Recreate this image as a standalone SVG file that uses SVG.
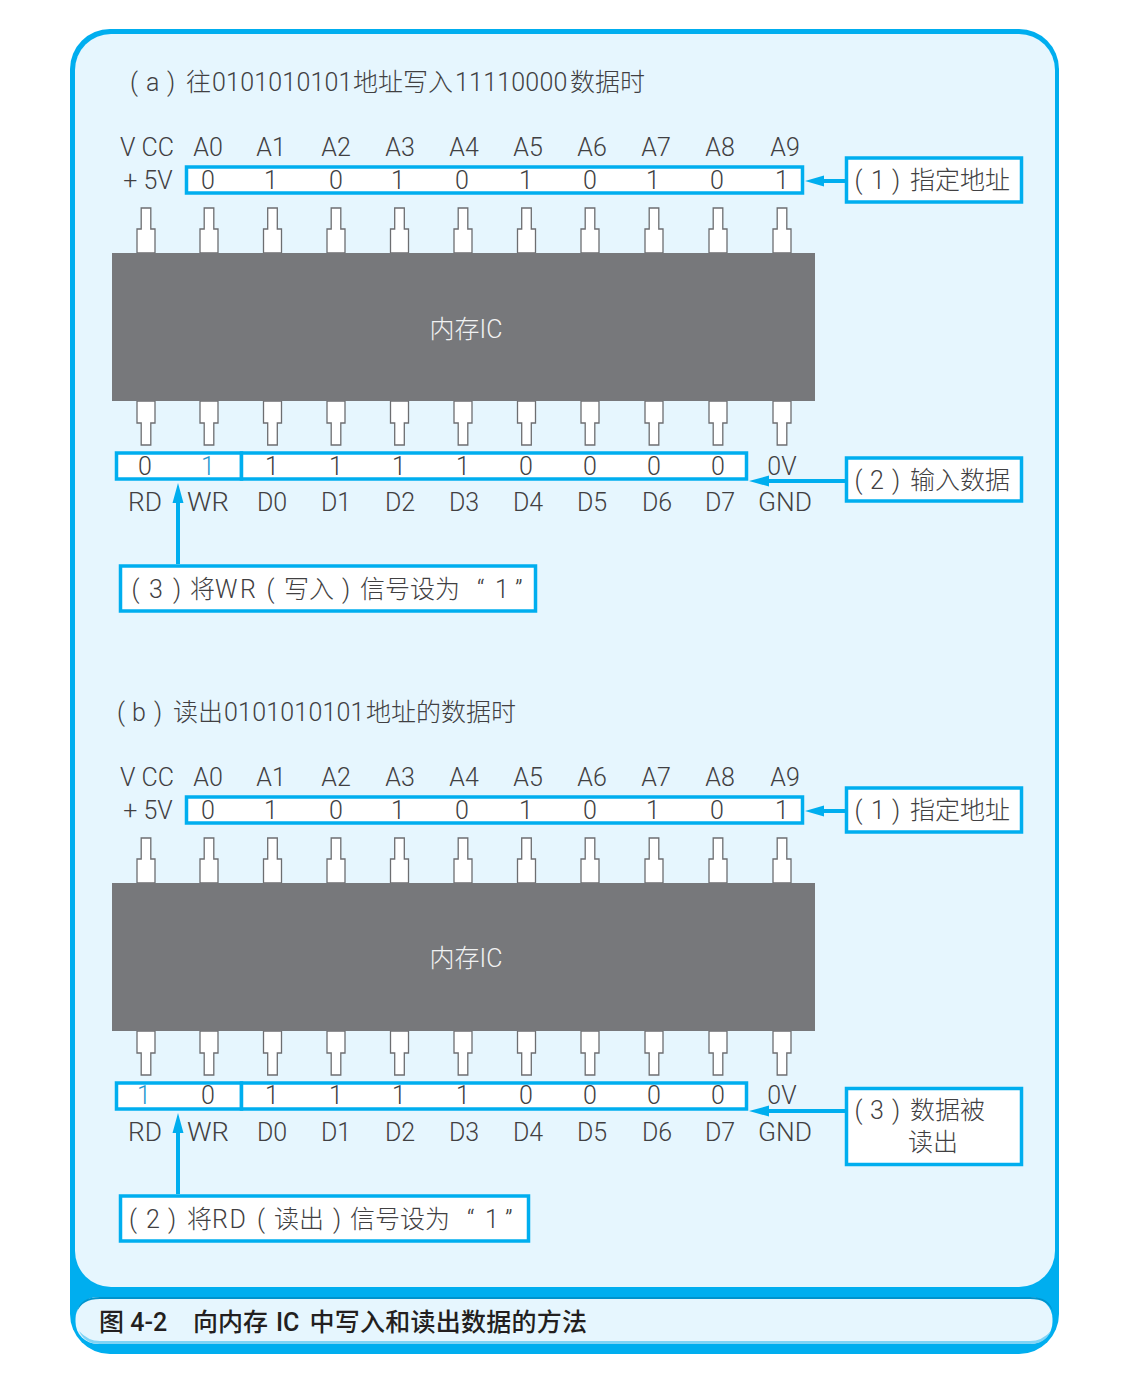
<svg xmlns="http://www.w3.org/2000/svg" width="1128" height="1380" viewBox="0 0 1128 1380">
<style>
text{font-family:Roboto,"Noto Sans CJK SC","Noto Sans",sans-serif;font-size:25px;fill:#414042;font-weight:300}
.m{text-anchor:middle}
.b{fill:#1f97d0}
.cap{font-weight:500;fill:#231f20}
.box{fill:#fff;stroke:#00aeef;stroke-width:3.5}
.pin{fill:#fff;stroke:#6d6e71;stroke-width:1.3}
.ic{fill:#77787b}
.ln{stroke:#00aeef;stroke-width:4;fill:none}
.hd{fill:#00aeef}
.ict{fill:#f1f2f2}
.dg{letter-spacing:.2px}
</style>
<defs>
<path id="pt" class="pin" d="M-4.8 208H4.8V229H9V253H-9V229H-4.8Z"/>
<path id="pb" class="pin" d="M-9 401H9V423H4.8V445H-4.8V423H-9Z"/>
</defs>
<g id="frame">
<rect x="70" y="29" width="989" height="1325" rx="40" fill="#00aeef"/>
<rect x="75" y="34" width="980" height="1253" rx="36" fill="#e6f6fe"/>
<rect x="75.500" y="1297" width="977" height="47" rx="22" fill="#e6f6fe"/>
<path d="M77 1312Q80 1297 100 1297H1030Q1050 1297 1053 1312Q1048 1299 1030 1299H100Q82 1299 77 1312Z" fill="#0093cc"/>
<path d="M79 1331Q85 1344 100 1344H1030Q1045 1344 1051 1331Q1042 1341 1030 1341H100Q88 1341 79 1331Z" fill="#80d4f5"/>
<text class="cap" y="1331"><tspan x="99">图 4-2</tspan><tspan x="193">向内存</tspan><tspan x="276">IC</tspan><tspan x="309.500" style="letter-spacing:.25px">中写入和读出数据的方法</tspan></text>
</g>
<g id="part-a">
<text id="title-a" y="91"><tspan x="130">(</tspan><tspan x="146">a</tspan><tspan x="167">)</tspan><tspan x="186">往</tspan><tspan x="212" class="dg">0101010101</tspan><tspan x="353">地址写入</tspan><tspan x="455" class="dg">11110000</tspan><tspan x="570">数据时</tspan></text>
<g id="pins-a">
<use href="#pt" x="146"/><use href="#pt" x="209"/><use href="#pt" x="272.500"/><use href="#pt" x="336"/><use href="#pt" x="399.500"/><use href="#pt" x="463"/><use href="#pt" x="526.500"/><use href="#pt" x="590"/><use href="#pt" x="654"/><use href="#pt" x="718"/><use href="#pt" x="782"/>
<use href="#pb" x="146"/><use href="#pb" x="209"/><use href="#pb" x="272.500"/><use href="#pb" x="336"/><use href="#pb" x="399.500"/><use href="#pb" x="463"/><use href="#pb" x="526.500"/><use href="#pb" x="590"/><use href="#pb" x="654"/><use href="#pb" x="718"/><use href="#pb" x="782"/>
</g>
<g id="ic-a"><rect class="ic" x="112" y="253" width="703" height="148"/><text class="m ict" x="466" y="338">内存IC</text></g>
<g id="top-labels-a">
<text class="m" x="147" y="156">V CC</text><text class="m" x="208" y="156">A0</text><text class="m" x="271" y="156">A1</text><text class="m" x="336" y="156">A2</text><text class="m" x="400" y="156">A3</text><text class="m" x="464" y="156">A4</text><text class="m" x="528" y="156">A5</text><text class="m" x="592" y="156">A6</text><text class="m" x="656" y="156">A7</text><text class="m" x="720" y="156">A8</text><text class="m" x="785" y="156">A9</text>
<text class="m" x="148" y="189">+ 5V</text>
</g>
<g id="addr-a"><rect class="box" x="186.500" y="167" width="616" height="26"/>
<text class="m" x="208" y="189">0</text><text class="m" x="271" y="189">1</text><text class="m" x="336" y="189">0</text><text class="m" x="398" y="189">1</text><text class="m" x="462" y="189">0</text><text class="m" x="526" y="189">1</text><text class="m" x="590" y="189">0</text><text class="m" x="653" y="189">1</text><text class="m" x="717" y="189">0</text><text class="m" x="782" y="189">1</text></g>
<g id="ctl-a"><rect class="box" x="116.500" y="453" width="125" height="26"/><text class="m" x="145" y="475">0</text><text class="m b" x="208" y="475">1</text></g>
<g id="data-a"><rect class="box" x="241.500" y="453" width="505" height="26"/>
<text class="m" x="272" y="475">1</text><text class="m" x="336" y="475">1</text><text class="m" x="399" y="475">1</text><text class="m" x="463" y="475">1</text><text class="m" x="526" y="475">0</text><text class="m" x="590" y="475">0</text><text class="m" x="654" y="475">0</text><text class="m" x="718" y="475">0</text></g>
<g id="bottom-labels-a"><text class="m" x="782" y="475">0V</text>
<text class="m" x="145" y="511" textLength="34" lengthAdjust="spacingAndGlyphs">RD</text><text class="m" x="208" y="511" textLength="42" lengthAdjust="spacingAndGlyphs">WR</text><text class="m" x="272" y="511">D0</text><text class="m" x="336" y="511">D1</text><text class="m" x="400" y="511">D2</text><text class="m" x="464" y="511">D3</text><text class="m" x="528" y="511">D4</text><text class="m" x="592" y="511">D5</text><text class="m" x="657" y="511">D6</text><text class="m" x="720" y="511">D7</text><text class="m" x="785" y="511" textLength="54" lengthAdjust="spacingAndGlyphs">GND</text></g>
<g id="call1-a"><rect class="box" x="846.500" y="158" width="175" height="44"/><text y="189"><tspan x="854.500">(</tspan><tspan x="871">1</tspan><tspan x="892">)</tspan><tspan x="910">指定地址</tspan></text></g>
<g id="call2-a"><rect class="box" x="846.500" y="458" width="175" height="43"/><text y="489"><tspan x="854.500">(</tspan><tspan x="870">2</tspan><tspan x="892">)</tspan><tspan x="910">输入数据</tspan></text></g>
<g id="call3-a"><rect class="box" x="120.500" y="566" width="415" height="45"/><text y="598"><tspan x="131.500">(</tspan><tspan x="149">3</tspan><tspan x="173">)</tspan><tspan x="190">将</tspan><tspan x="215" style="letter-spacing:2.500px">WR</tspan><tspan x="266.500">(</tspan><tspan x="284">写入</tspan><tspan x="342">)</tspan><tspan x="360">信号设为</tspan><tspan x="477">“</tspan><tspan x="495">1</tspan><tspan x="515">”</tspan></text></g>
</g>
<g id="part-b">
<text id="title-b" y="721"><tspan x="117">(</tspan><tspan x="132">b</tspan><tspan x="154">)</tspan><tspan x="173">读出</tspan><tspan x="224" class="dg">0101010101</tspan><tspan x="366">地址的数据时</tspan></text>
<g id="pins-b" transform="translate(0,630)">
<use href="#pt" x="146"/><use href="#pt" x="209"/><use href="#pt" x="272.500"/><use href="#pt" x="336"/><use href="#pt" x="399.500"/><use href="#pt" x="463"/><use href="#pt" x="526.500"/><use href="#pt" x="590"/><use href="#pt" x="654"/><use href="#pt" x="718"/><use href="#pt" x="782"/>
<use href="#pb" x="146"/><use href="#pb" x="209"/><use href="#pb" x="272.500"/><use href="#pb" x="336"/><use href="#pb" x="399.500"/><use href="#pb" x="463"/><use href="#pb" x="526.500"/><use href="#pb" x="590"/><use href="#pb" x="654"/><use href="#pb" x="718"/><use href="#pb" x="782"/>
</g>
<g id="ic-b"><rect class="ic" x="112" y="883" width="703" height="148"/><text class="m ict" x="466" y="967">内存IC</text></g>
<g id="top-labels-b" transform="translate(0,630)">
<text class="m" x="147" y="156">V CC</text><text class="m" x="208" y="156">A0</text><text class="m" x="271" y="156">A1</text><text class="m" x="336" y="156">A2</text><text class="m" x="400" y="156">A3</text><text class="m" x="464" y="156">A4</text><text class="m" x="528" y="156">A5</text><text class="m" x="592" y="156">A6</text><text class="m" x="656" y="156">A7</text><text class="m" x="720" y="156">A8</text><text class="m" x="785" y="156">A9</text>
<text class="m" x="148" y="189">+ 5V</text>
</g>
<g id="addr-b" transform="translate(0,630)"><rect class="box" x="186.500" y="167" width="616" height="26"/>
<text class="m" x="208" y="189">0</text><text class="m" x="271" y="189">1</text><text class="m" x="336" y="189">0</text><text class="m" x="398" y="189">1</text><text class="m" x="462" y="189">0</text><text class="m" x="526" y="189">1</text><text class="m" x="590" y="189">0</text><text class="m" x="653" y="189">1</text><text class="m" x="717" y="189">0</text><text class="m" x="782" y="189">1</text></g>
<g id="ctl-b" transform="translate(0,630)"><rect class="box" x="116.500" y="453" width="125" height="26"/><text class="m b" x="144" y="474">1</text><text class="m" x="208" y="474">0</text></g>
<g id="data-b" transform="translate(0,630)"><rect class="box" x="241.500" y="453" width="505" height="26"/>
<text class="m" x="272" y="474">1</text><text class="m" x="336" y="474">1</text><text class="m" x="399" y="474">1</text><text class="m" x="463" y="474">1</text><text class="m" x="526" y="474">0</text><text class="m" x="590" y="474">0</text><text class="m" x="654" y="474">0</text><text class="m" x="718" y="474">0</text></g>
<g id="bottom-labels-b" transform="translate(0,630)"><text class="m" x="782" y="474">0V</text>
<text class="m" x="145" y="511" textLength="34" lengthAdjust="spacingAndGlyphs">RD</text><text class="m" x="208" y="511" textLength="42" lengthAdjust="spacingAndGlyphs">WR</text><text class="m" x="272" y="511">D0</text><text class="m" x="336" y="511">D1</text><text class="m" x="400" y="511">D2</text><text class="m" x="464" y="511">D3</text><text class="m" x="528" y="511">D4</text><text class="m" x="592" y="511">D5</text><text class="m" x="657" y="511">D6</text><text class="m" x="720" y="511">D7</text><text class="m" x="785" y="511" textLength="54" lengthAdjust="spacingAndGlyphs">GND</text></g>
<g id="call1-b"><rect class="box" x="846.500" y="788" width="175" height="44"/><text y="819"><tspan x="854.500">(</tspan><tspan x="871">1</tspan><tspan x="892">)</tspan><tspan x="910">指定地址</tspan></text></g>
<g id="call3-b"><rect class="box" x="846.500" y="1088.500" width="175" height="76"/><text y="1119"><tspan x="854.500">(</tspan><tspan x="870">3</tspan><tspan x="892">)</tspan><tspan x="910">数据被</tspan><tspan x="908" y="1151">读出</tspan></text></g>
<g id="call2-b"><rect class="box" x="120.500" y="1196" width="408" height="45"/><text y="1228"><tspan x="129">(</tspan><tspan x="146">2</tspan><tspan x="168">)</tspan><tspan x="187">将</tspan><tspan x="212" style="letter-spacing:1.500px">RD</tspan><tspan x="257">(</tspan><tspan x="274">读出</tspan><tspan x="333">)</tspan><tspan x="350">信号设为</tspan><tspan x="467">“</tspan><tspan x="485">1</tspan><tspan x="505">”</tspan></text></g>
</g>
<g id="connectors">
<path class="ln" d="M845 181H820M845 481H765M178 564V498M845 811H820M845 1111H765M178 1194V1128"/>
<path class="hd" d="M805 181L824 175.500V186.500ZM749 481L769 475.500V486.500ZM178 483L183.500 503H172.500ZM805 811L824 805.500V816.500ZM749 1111L769 1105.500V1116.500ZM178 1113L183.500 1133H172.500Z"/>
</g>
</svg>
